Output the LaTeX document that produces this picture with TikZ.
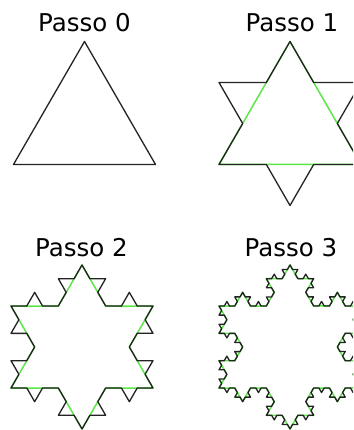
\documentclass[tikz,border=0pt]{standalone}
\usepackage{fontspec}
\setmainfont{DejaVu Sans}
\usetikzlibrary{decorations.fractals}
\definecolor{kgreen}{RGB}{90,230,70}
\definecolor{kblack}{RGB}{35,35,35}
\tikzset{
  curve/.style={draw=kblack, line width=1.3pt, line join=round, line cap=round},
  prev/.style={draw=kgreen, line width=1.5pt, line join=round, line cap=round},
  koch/.style={decoration=Koch snowflake},
  title/.style={font=\fontsize{24.5}{28}\selectfont, text=black, inner sep=0pt}
}
\begin{document}
\begin{tikzpicture}[x=1pt,y=-1pt]
\useasboundingbox (0,0) rectangle (353,430);
\clip (0,0) rectangle (353,430);
% step 0
\coordinate (a0) at (84.5,41.5);
\coordinate (b0) at (155.5,164.5);
\coordinate (c0) at (13.5,164.5);
% step 1
\coordinate (a1) at (290,41.5);
\coordinate (b1) at (361,164.5);
\coordinate (c1) at (219,164.5);
% step 2
\coordinate (a2) at (82,265);
\coordinate (b2) at (153,388);
\coordinate (c2) at (11,388);
% step 3
\coordinate (a3) at (290,265);
\coordinate (b3) at (361,388);
\coordinate (c3) at (219,388);

\node[title] (t0) at (84.5,22.5) {Passo 0};
\node[title] (t1) at (292,22.5) {Passo 1};
\node[title] (t2) at (81.5,247.5) {Passo 2};
\node[title] (t3) at (291,247.5) {Passo 3};

% step 0
\draw[curve] (a0) -- (b0) -- (c0) -- cycle;
% step 1
\draw[prev] (a1) -- (b1) -- (c1) -- cycle;
\draw[curve] decorate[koch]{ (a1) -- (b1) -- (c1) -- (a1) };
% step 2
\draw[prev] decorate[koch]{ (a2) -- (b2) -- (c2) -- (a2) };
\draw[curve] decorate[koch]{ decorate[koch]{ (a2) -- (b2) -- (c2) -- (a2) } };
% step 3
\draw[prev] decorate[koch]{ decorate[koch]{ (a3) -- (b3) -- (c3) -- (a3) } };
\draw[curve] decorate[koch]{ decorate[koch]{ decorate[koch]{ (a3) -- (b3) -- (c3) -- (a3) } } };
\end{tikzpicture}
\end{document}
